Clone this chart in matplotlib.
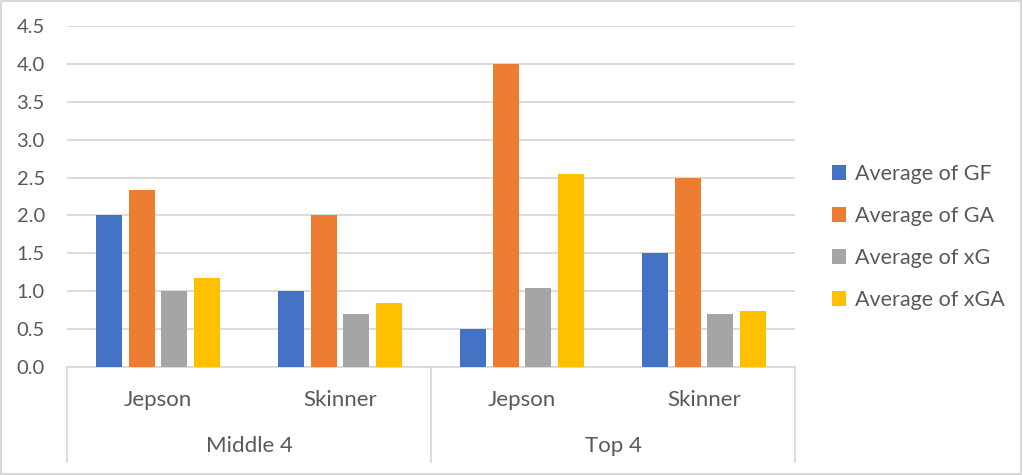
import numpy as np
import matplotlib.pyplot as plt
from matplotlib.patches import Patch

# data
groups = ["Middle 4", "Top 4"]
players = ["Jepson", "Skinner", "Jepson", "Skinner"]
series = ["Average of GF", "Average of GA", "Average of xG", "Average of xGA"]
gf = [2.0, 1.0, 0.5, 1.5]
ga = [2.33, 2.0, 4.0, 2.5]
xg = [1.0, 0.7, 1.04, 0.7]
xga = [1.17, 0.85, 2.55, 0.74]
colors = ["#4472c4", "#ed7d31", "#a5a5a5", "#ffc000"]

txt = "#595959"
grid = "#d9d9d9"
plt.rcParams['font.family'] = ['Lato', 'DejaVu Sans']

fig = plt.figure(figsize=(10.23, 4.75), dpi=100)
W, H = 1023, 475
x0, x1, y0, y1 = 67, 795, 367, 26
ax = fig.add_axes([x0 / W, 1 - y0 / H, (x1 - x0) / W, (y0 - y1) / H])

x = np.arange(len(players)) + 0.5
step = 0.181
width = 0.143
for i, (vals, c) in enumerate(zip([gf, ga, xg, xga], colors)):
    ax.bar(x + (i - 1.5) * step, vals, width, color=c, zorder=3)

ax.set_xlim(0, len(players))
ax.set_ylim(0, 4.5)
ax.set_yticks(np.arange(0, 4.51, 0.5))
ax.set_yticklabels(["%.1f" % v for v in np.arange(0, 4.51, 0.5)])
ax.tick_params(axis='y', length=0, pad=16, labelsize=14.5, labelcolor=txt)
ax.set_xticks([])
ax.grid(axis='y', color=grid, linewidth=1.3, zorder=0)
for s in ["left", "right", "top"]:
    ax.spines[s].set_visible(False)
ax.spines["bottom"].set_color(grid)
ax.spines["bottom"].set_linewidth(1.3)

# multi-level category axis
tr = ax.get_xaxis_transform()
bottom = -(462 - y0) / (y0 - y1)
for xv in [0, 2, 4]:
    ax.plot([xv, xv], [0, bottom], color=grid, lw=1.3, transform=tr, clip_on=False)
for xi, p in zip(x, players):
    ax.text(xi, -(400 - y0) / (y0 - y1), p, transform=tr, ha='center', va='center',
            fontsize=16, color=txt)
for gi, g in enumerate(groups):
    ax.text(gi * 2 + 1, -(446 - y0) / (y0 - y1), g, transform=tr, ha='center', va='center',
            fontsize=16, color=txt)

handles = [Patch(facecolor=c, label=s) for c, s in zip(colors, series)]
leg = fig.legend(handles=handles, loc='center left', bbox_to_anchor=(832 / W, 1 - 237 / H),
                 frameon=False, fontsize=15.5, labelcolor=txt, handlelength=0.65,
                 handleheight=0.65, handletextpad=0.4, labelspacing=1.02,
                 borderpad=0, borderaxespad=0)

# chart border
fig.patches.append(plt.Rectangle((0.001, 0.002), 0.997, 0.996, transform=fig.transFigure,
                                 fill=False, edgecolor=grid, linewidth=1.5))

fig.savefig("out.png", dpi=100)
